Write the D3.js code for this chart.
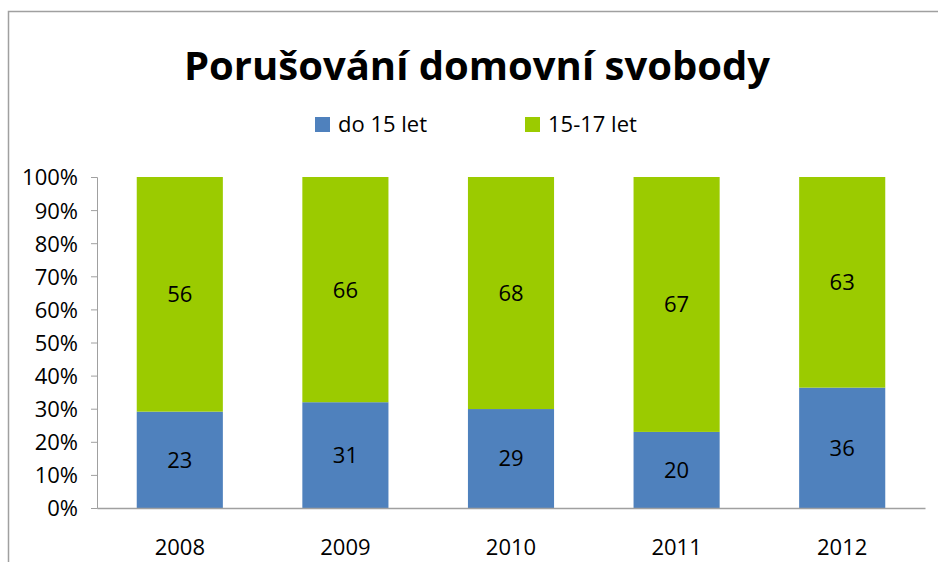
<!DOCTYPE html>
<html>
<head>
<meta charset="utf-8">
<script src="https://cdn.jsdelivr.net/npm/d3@7"></script>
<style>
    body { margin: 0; background: #fff; }
    svg { display: block; font-family: "Open Sans", Lato, sans-serif; }
</style>
</head>
<body>
<svg id="chart" width="938" height="562"></svg>
<script>
const years = ['2008', '2009', '2010', '2011', '2012'];
const under15 = [23, 31, 29, 20, 36];
const age15to17 = [56, 66, 68, 67, 63];
const seriesNames = ['do 15 let', '15-17 let'];
const seriesColors = ['#4f81bd', '#9bcb00'];
const yTicks = [0, 0.1, 0.2, 0.3, 0.4, 0.5, 0.6, 0.7, 0.8, 0.9, 1];

const svg = d3.select('#chart');
const width = 938, height = 562;
const margin = { top: 177, right: 13, bottom: 54, left: 97 };
const labelSize = 22;

// chart border
svg.append('rect')
    .attr('x', 8.5)
    .attr('y', 11.5)
    .attr('width', width)
    .attr('height', height)
    .attr('fill', 'none')
    .attr('stroke', '#a0a0a0')
    .attr('stroke-width', 1.5);

svg.append('text')
    .attr('x', 477)
    .attr('y', 80)
    .attr('text-anchor', 'middle')
    .attr('font-size', 40)
    .attr('font-weight', 'bold')
    .attr('fill', '#000')
    .text('Porušování domovní svobody');

// legend
const legendX = [315, 525];
seriesNames.forEach((name, i) => {
    svg.append('rect')
        .attr('x', legendX[i])
        .attr('y', 117)
        .attr('width', 15)
        .attr('height', 15)
        .attr('fill', seriesColors[i]);
    svg.append('text')
        .attr('x', legendX[i] + 23)
        .attr('y', 132)
        .attr('font-size', labelSize)
        .attr('fill', '#000')
        .text(name);
});

const data = years.map((year, i) => {
    const total = under15[i] + age15to17[i];
    return { year, a: under15[i], b: age15to17[i], total };
});

const x = d3.scaleBand()
    .domain(years)
    .range([margin.left, width - margin.right])
    .paddingInner(0.48)
    .paddingOuter(0.24);

const y = d3.scaleLinear()
    .domain([0, 1])
    .range([height - margin.bottom, margin.top]);

// y axis
const yAxis = svg.append('g')
    .attr('transform', `translate(${margin.left},0)`)
    .call(d3.axisLeft(y).tickValues(yTicks).tickFormat(d3.format('.0%')).tickSizeOuter(0).tickSize(6));
yAxis.select('.domain').attr('stroke', '#a0a0a0');
yAxis.selectAll('.tick line').attr('stroke', '#a0a0a0');
yAxis.selectAll('.tick text')
    .attr('font-size', labelSize)
    .attr('font-family', '"Open Sans", sans-serif')
    .attr('fill', '#000')
    .attr('x', -19)
    .attr('dy', '0.36em');

const stacks = d3.stack().keys(['a', 'b']).offset(d3.stackOffsetExpand)(data);

stacks.forEach((layer, si) => {
    const g = svg.append('g');
    g.selectAll('rect')
        .data(layer)
        .join('rect')
        .attr('x', d => x(d.data.year))
        .attr('width', x.bandwidth())
        .attr('y', d => y(d[1]))
        .attr('height', d => y(d[0]) - y(d[1]))
        .attr('fill', seriesColors[si]);
    g.selectAll('text')
        .data(layer)
        .join('text')
        .attr('x', d => x(d.data.year) + x.bandwidth() / 2)
        .attr('y', d => (y(d[0]) + y(d[1])) / 2)
        .attr('dy', '0.36em')
        .attr('text-anchor', 'middle')
        .attr('font-size', labelSize)
        .attr('fill', '#000')
        .text(d => d.data[layer.key]);
});

// x axis
const xAxis = svg.append('g')
    .attr('transform', `translate(0,${height - margin.bottom})`)
    .call(d3.axisBottom(x).tickSize(0).tickSizeOuter(0).tickPadding(31));
xAxis.select('.domain').attr('stroke', '#a0a0a0').attr('stroke-width', 1.5);
xAxis.selectAll('.tick text')
    .attr('font-size', labelSize)
    .attr('font-family', '"Open Sans", sans-serif')
    .attr('fill', '#000');
</script>
</body>
</html>
